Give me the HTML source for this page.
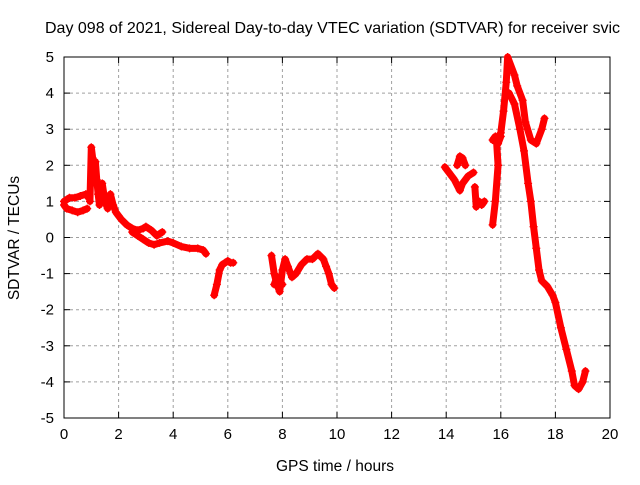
<!DOCTYPE html>
<html><head><meta charset="utf-8"><style>
body{margin:0;background:#fff}
svg text{font-family:"Liberation Sans",sans-serif;fill:#000}
</style></head><body>
<svg id="chart" width="640" height="480" viewBox="0 0 640 480">
<text x="45" y="33" font-size="16">Day 098 of 2021, Sidereal Day-to-day VTEC variation (SDTVAR) for receiver svic</text>
<g id="grid"></g>
<g id="axes"></g>
<g id="marks"></g>
<text x="335" y="471" font-size="15.5" text-anchor="middle">GPS time / hours</text>
<text transform="translate(19,238) rotate(-90)" font-size="15.5" text-anchor="middle">SDTVAR / TECUs</text>
</svg>
<script>
const xTicks=[0,2,4,6,8,10,12,14,16,18,20];
const yTicks=[-5,-4,-3,-2,-1,0,1,2,3,4,5];
const segA1=[[0,1.0],[0.1,1.05],[0.2,1.1],[0.4,1.1],[0.6,1.15],[0.8,1.2],[0.9,1.1]];
const segA2=[[0,0.9],[0.1,0.8],[0.3,0.75],[0.5,0.7],[0.7,0.75],[0.85,0.8]];
const segB=[[0.95,1.0],[1.0,2.5],[1.05,2.2],[1.1,1.8],[1.15,2.1],[1.2,1.6],[1.25,1.2],[1.3,0.9]];
const segC=[[1.4,1.5],[1.5,1.0],[1.6,0.8],[1.7,1.2],[1.8,0.9],[1.9,0.7],[2.0,0.6],[2.1,0.5],[2.3,0.35],[2.5,0.25],[2.7,0.2],[2.9,0.25],[3.0,0.3],[3.2,0.2],[3.4,0.05],[3.6,0.15]];
const segC2=[[2.5,0.15],[2.7,0.05],[2.9,-0.05],[3.1,-0.15],[3.3,-0.2],[3.5,-0.15],[3.8,-0.1],[4.0,-0.15],[4.3,-0.25],[4.6,-0.3],[4.9,-0.3],[5.1,-0.35],[5.2,-0.45]];
const segD=[[5.5,-1.6],[5.6,-1.3],[5.7,-0.9],[5.8,-0.75],[5.9,-0.7],[6.0,-0.65],[6.1,-0.7],[6.2,-0.7]];
const segE=[[7.6,-0.5],[7.7,-1.0],[7.8,-1.3],[7.9,-1.5],[8.0,-0.9],[8.1,-0.6],[8.2,-0.8],[8.35,-1.1],[8.5,-1.0],[8.7,-0.75],[8.9,-0.6],[9.1,-0.6],[9.3,-0.45],[9.5,-0.6],[9.6,-0.8],[9.7,-1.0],[9.8,-1.3],[9.9,-1.4]];
const segE2=[[7.7,-1.3],[7.8,-1.1],[7.9,-1.2],[8.0,-1.3]];
const segF=[[13.95,1.95],[14.1,1.8],[14.3,1.6],[14.5,1.3],[14.6,1.5],[14.8,1.7],[15.0,1.8]];
const segF2=[[14.4,2.0],[14.5,2.25],[14.6,2.2],[14.7,2.0]];
const segG=[[15.05,1.4],[15.1,0.85],[15.2,1.0],[15.3,0.9],[15.4,1.0]];
const segH=[[15.7,0.35],[15.8,1.0],[15.9,2.0],[15.85,2.6],[16.0,2.9],[16.1,3.5],[16.2,4.3],[16.25,5.0],[16.5,4.5],[16.6,4.2],[16.8,3.8],[16.9,3.2],[17.1,2.7],[17.3,2.6],[17.5,3.0],[17.6,3.3]];
const segI=[[16.3,4.0],[16.5,3.7],[16.7,3.0],[16.85,2.4],[17.0,1.5],[17.1,1.0],[17.2,0.3],[17.3,-0.3],[17.4,-0.9],[17.5,-1.2],[17.7,-1.35],[17.9,-1.6],[18.0,-1.8],[18.2,-2.5],[18.4,-3.1],[18.6,-3.7],[18.7,-4.1],[18.85,-4.2],[19.0,-4.0],[19.1,-3.7]];
const segJ=[[15.7,2.7],[15.8,2.8],[15.9,2.6],[16.0,2.8]];
const series=[segA1,segA2,segB,segC,segC2,segD,segE,segE2,segF,segF2,segG,segH,segI,segJ];
const X0=64,X1=610,Y0=418,Y1=57;
const xs=v=>X0+(v-0)/(20-0)*(X1-X0);
const ys=v=>Y0-(v+5)/10*(Y0-Y1);
const NS="http://www.w3.org/2000/svg";
function mk(t,a,p){const e=document.createElementNS(NS,t);for(const k in a)e.setAttribute(k,a[k]);p.appendChild(e);return e;}
const grid=document.getElementById('grid'),axes=document.getElementById('axes'),marks=document.getElementById('marks');
xTicks.forEach(t=>{const x=xs(t);
 if(t>0&&t<20){const g=mk('line',{x1:x,x2:x,y1:Y1,y2:Y0,stroke:'#a0a0a0','stroke-dasharray':'3,3'},grid);}
 const l=mk('text',{x:x,y:Y0+21,'font-size':'15','text-anchor':'middle'},axes);l.textContent=t;
 
 mk('line',{x1:x,x2:x,y1:Y0,y2:Y0-6,stroke:'#000'},axes);mk('line',{x1:x,x2:x,y1:Y1,y2:Y1+6,stroke:'#000'},axes);});
yTicks.forEach(t=>{const y=ys(t);
 if(t>-5&&t<5){const g=mk('line',{x1:X0,x2:X1,y1:y,y2:y,stroke:'#a0a0a0','stroke-dasharray':'3,3'},grid);}
 const l=mk('text',{x:X0-10,y:y+5,'font-size':'15','text-anchor':'end'},axes);l.textContent=t;
 
 mk('line',{x1:X0,x2:X0+6,y1:y,y2:y,stroke:'#000'},axes);mk('line',{x1:X1,x2:X1-6,y1:y,y2:y,stroke:'#000'},axes);});
const fr=mk('rect',{x:X0,y:Y1,width:X1-X0,height:Y0-Y1,fill:'none',stroke:'#000'},axes);

series.forEach(s=>{
 const pl=mk('polyline',{points:s.map(p=>xs(p[0])+','+ys(p[1])).join(' '),fill:'none',stroke:'#f00','stroke-width':7,'stroke-linejoin':'round','stroke-linecap':'round'},marks);
 
 s.forEach(p=>{const m=mk('path',{d:`M${xs(p[0])-4},${ys(p[1])}h8M${xs(p[0])},${ys(p[1])-4}v8`,stroke:'#f00','stroke-width':1.3},marks);
  });
});
</script>
</body></html>
